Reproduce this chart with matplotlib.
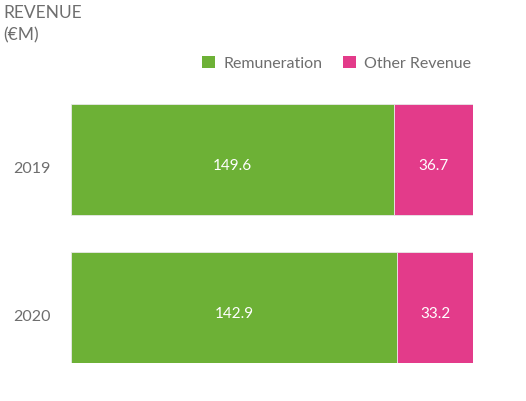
import matplotlib
matplotlib.use("Agg")
import matplotlib.pyplot as plt
import matplotlib.transforms as mtransforms
from matplotlib.patches import Patch
import numpy as np

years = ["2019", "2020"]
remuneration = [149.6, 142.9]
other_revenue = [36.7, 33.2]
series_names = ["Remuneration", "Other Revenue"]
colors = ["#6db136", "#e33b8a"]

plt.rcParams['font.family'] = ['Lato', 'DejaVu Sans']
text_color = "#6e6e6e"

fig = plt.figure(figsize=(5.26, 4.02), dpi=100)
ax = fig.add_axes([71/526, 1-364/402, (473-71)/526, (364-105)/402])

rem = np.array(remuneration)
oth = np.array(other_revenue)
tot = rem + oth
rem_frac = rem / tot
oth_frac = oth / tot
y = np.arange(len(years))

ax.barh(y, rem_frac, height=0.75, color=colors[0], edgecolor="#e8e8e8", linewidth=0.6)
ax.barh(y, oth_frac, left=rem_frac, height=0.75, color=colors[1], edgecolor="#e8e8e8", linewidth=0.6)

val_off = ax.transData + mtransforms.ScaledTranslation(0, -5/100, fig.dpi_scale_trans)
for i in range(len(years)):
    ax.text(rem_frac[i] / 2, y[i], f"{rem[i]:.1f}", ha="center", va="center",
            color="white", fontsize=11, transform=val_off)
    ax.text(rem_frac[i] + oth_frac[i] / 2, y[i], f"{oth[i]:.1f}", ha="center", va="center",
            color="white", fontsize=11, transform=val_off)

ax.set_xlim(0, 1)
ax.set_ylim(1.375, -0.375)
ax.set_yticks(y)
ax.set_yticklabels(years, fontsize=11.5, color=text_color)
ax.tick_params(axis="y", length=0, pad=14.5)
tick_off = mtransforms.ScaledTranslation(0, -7/100, fig.dpi_scale_trans)
for lab in ax.get_yticklabels():
    lab.set_transform(lab.get_transform() + tick_off)
ax.set_xticks([])
for s in ax.spines.values():
    s.set_visible(False)

fig.text(3/526, 1-5/402, "REVENUE", ha="left", va="top", fontsize=12.5, color=text_color)
fig.text(3/526, 1-27/402, "(€M)", ha="left", va="top", fontsize=12.5, color=text_color)

handles = [Patch(facecolor=c, edgecolor="none") for c in colors]
fig.legend(handles, series_names, loc="center right", bbox_to_anchor=(485/526, 1-64/402),
           ncol=2, frameon=False, handlelength=0.8, handleheight=0.8,
           handletextpad=0.5, columnspacing=1.3, labelcolor=text_color,
           prop={"family": ["Lato", "DejaVu Sans"], "size": 11.5})

fig.savefig("out.png", dpi=100)
